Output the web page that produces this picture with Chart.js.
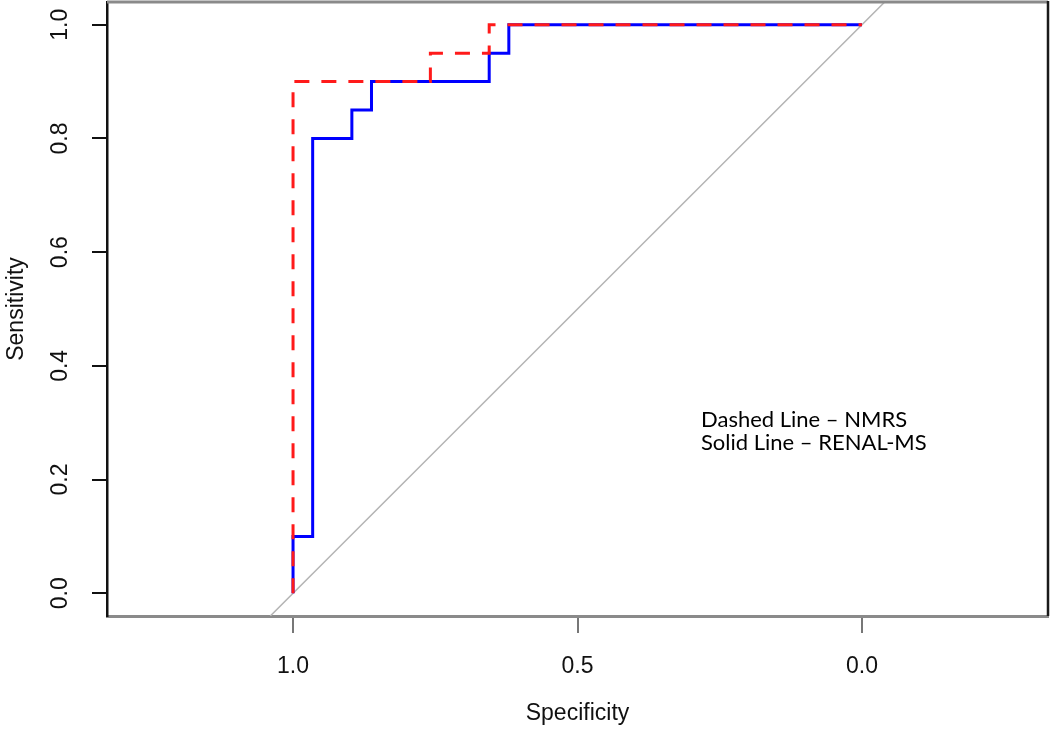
<!DOCTYPE html>
<html>
<head>
<meta charset="utf-8">
<script src="https://cdn.jsdelivr.net/npm/chart.js@4/dist/chart.umd.min.js"></script>
<style>
  html, body { margin: 0; padding: 0; background: #fff; }
  #wrap { width: 1050px; height: 730px; }
</style>
</head>
<body>
<div id="wrap"><canvas id="roc" width="1050" height="730"></canvas></div>
<script>
// ROC curves, specificity (reversed) vs sensitivity
const nmrsSpec = [1, 1, 0.7586, 0.7586, 0.6552, 0.6552, 0];
const nmrsSens = [0, 0.9, 0.9, 0.95, 0.95, 1.0, 1.0];

const renalSpec = [1, 1, 0.9655, 0.9655, 0.8966, 0.8966, 0.8621, 0.8621, 0.6552, 0.6552, 0.6207, 0.6207, 0];
const renalSens = [0, 0.1, 0.1, 0.8, 0.8, 0.85, 0.85, 0.9, 0.9, 0.95, 0.95, 1.0, 1.0];

// chance line, reaches the plot frame
const diagSpec = [1.04, -0.04];
const diagSens = [-0.04, 1.04];

const xTicks = [1.0, 0.5, 0.0];
const yTicks = [0.0, 0.2, 0.4, 0.6, 0.8, 1.0];

const noteLines = ['Dashed Line \u2013 NMRS', 'Solid Line \u2013 RENAL-MS'];

function pts(xs, ys) {
  return xs.map((x, i) => ({ x: x, y: ys[i] }));
}

// frame on top and right side, like R's box()
const boxPlugin = {
  id: 'box',
  afterDraw(chart) {
    const a = chart.chartArea;
    const ctx = chart.ctx;
    ctx.save();
    ctx.strokeStyle = '#8a8a8a';
    ctx.lineWidth = 3;
    ctx.beginPath();
    ctx.moveTo(a.left, a.top);
    ctx.lineTo(a.right, a.top);
    ctx.stroke();
    ctx.strokeStyle = '#1a1a1a';
    ctx.lineWidth = 2.5;
    ctx.beginPath();
    ctx.moveTo(a.right, a.top - 1);
    ctx.lineTo(a.right, a.bottom);
    ctx.stroke();
    ctx.restore();
  }
};

const notePlugin = {
  id: 'note',
  afterDraw(chart) {
    const ctx = chart.ctx;
    ctx.save();
    ctx.fillStyle = '#000';
    ctx.font = '22px Lato';
    ctx.textBaseline = 'alphabetic';
    ctx.fillText(noteLines[0], 701, 427);
    ctx.fillText(noteLines[1], 701, 450);
    ctx.restore();
  }
};

const axisFont = { family: 'Liberation Sans', size: 23 };

const ctx = document.getElementById('roc').getContext('2d');
new Chart(ctx, {
  type: 'scatter',
  data: {
    datasets: [
      {
        label: 'NMRS',
        data: pts(nmrsSpec, nmrsSens),
        showLine: true,
        borderColor: '#ff1a1a',
        borderWidth: 3,
        borderDash: [15, 12],
        pointRadius: 0,
        order: 1
      },
      {
        label: 'RENAL-MS',
        data: pts(renalSpec, renalSens),
        showLine: true,
        borderColor: '#0000ff',
        borderWidth: 3,
        pointRadius: 0,
        order: 2
      },
      {
        label: 'diag',
        data: pts(diagSpec, diagSens),
        showLine: true,
        borderColor: '#b4b4b4',
        borderWidth: 1.5,
        pointRadius: 0,
        order: 3
      }
    ]
  },
  options: {
    responsive: false,
    animation: false,
    layout: { padding: { top: 2, right: 2, left: 0, bottom: 0 } },
    plugins: {
      legend: { display: false },
      tooltip: { enabled: false }
    },
    scales: {
      x: {
        type: 'linear',
        reverse: true,
        min: -0.327,
        max: 1.327,
        afterBuildTicks: (s) => { s.ticks = xTicks.map(v => ({ value: v })); },
        afterFit: (s) => { s.height = 114; s.paddingLeft = 0; s.paddingRight = 0; },
        grid: { drawOnChartArea: false, drawTicks: true, tickLength: 17, color: '#777', lineWidth: 2 },
        border: { color: '#8a8a8a', width: 3 },
        ticks: {
          color: '#111',
          font: axisFont,
          padding: 20,
          maxRotation: 0,
          callback: (v) => Number(v).toFixed(1)
        },
        title: { display: true, text: 'Specificity', color: '#111', font: axisFont, padding: { top: 0, bottom: 3 } }
      },
      y: {
        type: 'linear',
        min: -0.04,
        max: 1.04,
        afterBuildTicks: (s) => { s.ticks = yTicks.map(v => ({ value: v })); },
        afterFit: (s) => { s.width = 107; s.paddingTop = 0; s.paddingBottom = 0; },
        grid: { drawOnChartArea: false, drawTicks: true, tickLength: 15, color: '#111', lineWidth: 2 },
        border: { color: '#111', width: 2.5 },
        ticks: {
          color: '#111',
          font: axisFont,
          padding: 15,
          minRotation: 90,
          maxRotation: 90,
          crossAlign: 'center',
          callback: (v) => Number(v).toFixed(1)
        },
        title: { display: true, text: 'Sensitivity', color: '#111', font: axisFont, padding: { top: 3, bottom: 0 } }
      }
    }
  },
  plugins: [boxPlugin, notePlugin]
});
</script>
</body>
</html>
